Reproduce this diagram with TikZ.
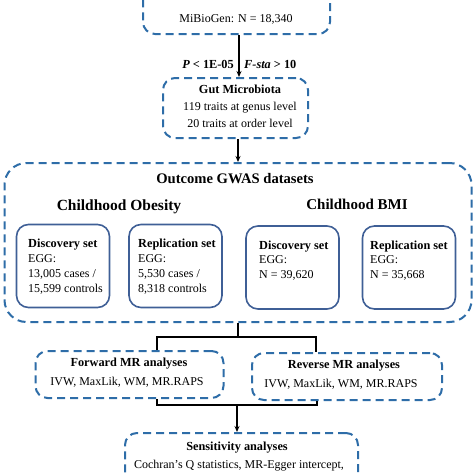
\documentclass[tikz,border=0pt]{standalone}
\usepackage{fontspec}
\setmainfont{Liberation Serif}
\usetikzlibrary{arrows.meta,calc}
\definecolor{dblue}{HTML}{2E6DA8}
\definecolor{sblue}{HTML}{3F5F96}
\tikzset{
  dbox/.style={draw=dblue, line width=2pt, dash pattern=on 8pt off 5pt, rounded corners=12pt, inner sep=0pt},
  bigbox/.style={dbox, rounded corners=22pt},
  sbox/.style={draw=sblue, line width=1.6pt, rounded corners=12pt, inner sep=0pt, minimum width=93pt, minimum height=83pt},
  txt/.style={inner sep=0pt, anchor=base, font=\fontsize{12}{14}\selectfont},
  ltxt/.style={txt, anchor=base west},
  btxt/.style={txt, font=\fontsize{12.3}{14}\selectfont\bfseries},
  lbtxt/.style={btxt, anchor=base west},
  htxt/.style={txt, font=\fontsize{15}{17}\selectfont\bfseries},
  conn/.style={line width=1.3pt, black},
  arr/.style={conn, -{Stealth[length=6pt,width=5pt]}}
}
\begin{document}
\begin{tikzpicture}[x=1pt,y=-1pt]
\useasboundingbox (0,0) rectangle (474,474);
\begin{scope}
\clip (0,0) rectangle (474,474);
% top box
\node[dbox, minimum width=187pt, minimum height=60pt] (top) at (236.5,4) {};
\node[txt] (toptxt) at (236,22) {MiBioGen: N = 18,340};
% gut box
\node[dbox, minimum width=145pt, minimum height=60pt] (gut) at (235.5,108) {};
\node[btxt] (gut1) at (240,93) {Gut Microbiota};
\node[txt] (gut2) at (240,110) {119 traits at genus level};
\node[txt] (gut3) at (240,127) {20 traits at order level};
% threshold labels
\node[txt, anchor=base east, font=\fontsize{12.3}{14}\selectfont\bfseries] (plab) at (234,68) {\textit{P} < 1E-05};
\node[txt, anchor=base west, font=\fontsize{12.3}{14}\selectfont\bfseries] (flab) at (244,68) {\textit{F-sta} > 10};
% outcome box
\node[bigbox, minimum width=467pt, minimum height=159pt] (out) at (238,242.5) {};
\node[htxt, font=\fontsize{14.6}{17}\selectfont\bfseries] (outt) at (235,183) {Outcome GWAS datasets};
\node[htxt, font=\fontsize{15.5}{17}\selectfont\bfseries] (co) at (119,210) {Childhood Obesity};
\node[htxt] (cb) at (357,209) {Childhood BMI};
% inner boxes
\node[sbox] (b1) at (63,266) {};
\node[sbox] (b2) at (175.5,266) {};
\node[sbox] (b3) at (292.5,267.5) {};
\node[sbox] (b4) at (409,267.5) {};
\node[lbtxt] (b1a) at (28,247) {Discovery set};
\node[ltxt] (b1b) at (28,262) {EGG:};
\node[ltxt] (b1c) at (28,277) {13,005 cases /};
\node[ltxt] (b1d) at (28,292) {15,599 controls};
\node[lbtxt] (b2a) at (138,247) {Replication set};
\node[ltxt] (b2b) at (138,262) {EGG:};
\node[ltxt] (b2c) at (138,277) {5,530 cases /};
\node[ltxt] (b2d) at (138,292) {8,318 controls};
\node[lbtxt] (b3a) at (259,249) {Discovery set};
\node[ltxt] (b3b) at (259,263.5) {EGG:};
\node[ltxt] (b3c) at (259,278) {N = 39,620};
\node[lbtxt] (b4a) at (370,249) {Replication set};
\node[ltxt] (b4b) at (370,263.5) {EGG:};
\node[ltxt] (b4c) at (370,278) {N = 35,668};
% MR boxes
\node[dbox, minimum width=188pt, minimum height=47pt] (fwd) at (129.5,374.5) {};
\node[btxt] (fwd1) at (129,366) {Forward MR analyses};
\node[txt] (fwd2) at (127,385) {IVW, MaxLik, WM, MR.RAPS};
\node[dbox, minimum width=190pt, minimum height=47pt] (rev) at (347,376.5) {};
\node[btxt] (rev1) at (344,368) {Reverse MR analyses};
\node[txt] (rev2) at (341,387) {IVW, MaxLik, WM, MR.RAPS};
% sensitivity box
\node[dbox, minimum width=233pt, minimum height=80pt] (sens) at (241.5,473) {};
\node[btxt] (sens1) at (237,450) {Sensitivity analyses};
\node[txt] (sens2) at (239,468) {Cochran's Q statistics, MR-Egger intercept,};
% connectors
\draw[arr] (top.south -| 239,0) -- (gut.north -| 239,0);
\draw[arr] (gut.south -| 238,0) -- (out.north -| 238,0);
\coordinate (bl) at (157,337);
\coordinate (br) at (316,337);
\draw[conn] (out.south -| 238,0) -- (bl -| 238,0);
\draw[conn] (bl |- fwd.north) -- (bl) -- (br) -- (br |- rev.north);
\coordinate (cl) at (157,405);
\coordinate (cr) at (317,405);
\draw[conn] (fwd.south -| cl) -- (cl) -- (cr) -- (rev.south -| cr);
\draw[arr] ($(cl)!0.5!(cr)$) -- (sens.north -| 237,0);
\end{scope}
\end{tikzpicture}
\end{document}
